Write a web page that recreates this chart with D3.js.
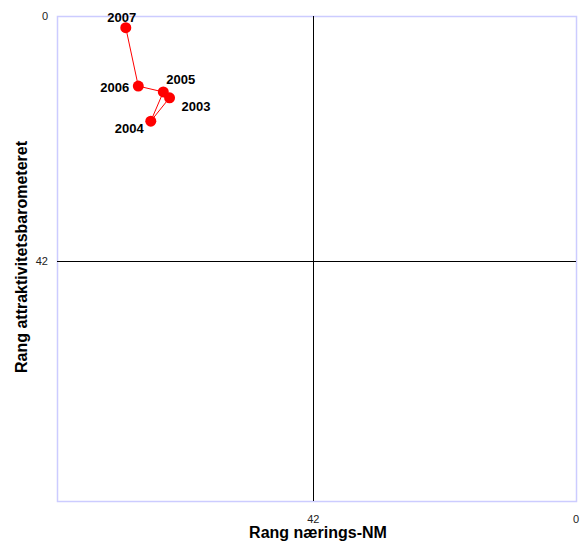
<!DOCTYPE html>
<html>
<head>
<meta charset="utf-8">
<script src="https://cdn.jsdelivr.net/npm/d3@7"></script>
<style>
  html, body { margin: 0; padding: 0; background: #fff; }
  svg { display: block; font-family: "Liberation Sans", Arial, sans-serif; }
</style>
</head>
<body>
<svg id="chart" width="586" height="542"></svg>
<script>
// years and ranks
const years = ['2003', '2004', '2005', '2006', '2007'];
const rankNM = [65, 68, 66, 70, 72];        // x: Rang nærings-NM
const rankAttr = [14, 18, 13, 12, 2];        // y: Rang attraktivitetsbarometeret
const xTicks = [42, 0];
const yTicks = [0, 42];

const svg = d3.select('#chart');
const plotLeft = 57, plotRight = 576, plotTop = 16, plotBottom = 501;
const rankMax = 83;

const x = d3.scaleLinear().domain([rankMax, 0]).range([plotLeft, plotRight]);
const y = d3.scaleLinear().domain([0, rankMax]).range([plotTop, plotBottom]);

// plot frame
svg.append('rect')
  .attr('x', plotLeft + 0.5)
  .attr('y', plotTop + 0.5)
  .attr('width', plotRight - plotLeft)
  .attr('height', plotBottom - plotTop)
  .attr('fill', 'none')
  .attr('stroke', '#ccccff')
  .attr('stroke-width', 1.5);

// crossing axes at rank 42
svg.append('line')
  .attr('x1', Math.round(x(42)) + 0.5).attr('x2', Math.round(x(42)) + 0.5)
  .attr('y1', plotTop).attr('y2', plotBottom)
  .attr('stroke', '#000').attr('stroke-width', 1);
svg.append('line')
  .attr('x1', plotLeft).attr('x2', plotRight)
  .attr('y1', Math.round(y(42)) + 0.5).attr('y2', Math.round(y(42)) + 0.5)
  .attr('stroke', '#000').attr('stroke-width', 1);

// tick labels
svg.selectAll('.xtick')
  .data(xTicks)
  .enter().append('text')
  .attr('x', d => x(d))
  .attr('y', 523)
  .attr('text-anchor', 'middle')
  .attr('font-size', 11)
  .attr('fill', '#222')
  .text(d => d);

svg.selectAll('.ytick')
  .data(yTicks)
  .enter().append('text')
  .attr('x', 48)
  .attr('y', d => y(d) + 4)
  .attr('text-anchor', 'end')
  .attr('font-size', 11)
  .attr('fill', '#222')
  .text(d => d);

// axis titles
svg.append('text')
  .attr('x', 318)
  .attr('y', 538)
  .attr('text-anchor', 'middle')
  .attr('font-size', 16)
  .attr('font-weight', 'bold')
  .text('Rang nærings-NM');

svg.append('text')
  .attr('transform', 'translate(27, 257) rotate(-90)')
  .attr('text-anchor', 'middle')
  .attr('font-size', 16)
  .attr('font-weight', 'bold')
  .text('Rang attraktivitetsbarometeret');

// series
const points = years.map((yr, i) => ({ year: yr, nm: rankNM[i], attr: rankAttr[i] }));

svg.append('path')
  .datum(points)
  .attr('fill', 'none')
  .attr('stroke', '#ff0000')
  .attr('stroke-width', 1)
  .attr('d', d3.line().x(d => x(d.nm)).y(d => y(d.attr)));

svg.selectAll('.pt')
  .data(points)
  .enter().append('circle')
  .attr('cx', d => x(d.nm))
  .attr('cy', d => y(d.attr))
  .attr('r', 5.5)
  .attr('fill', '#ff0000');

// label placement per point (dx, dy, anchor)
const labelPos = {
  '2003': [12, 13, 'start'],
  '2004': [-7, 12, 'end'],
  '2005': [3, -8, 'start'],
  '2006': [-9, 6, 'end'],
  '2007': [-4, -6, 'middle']
};

svg.selectAll('.lbl')
  .data(points)
  .enter().append('text')
  .attr('x', d => x(d.nm) + labelPos[d.year][0])
  .attr('y', d => y(d.attr) + labelPos[d.year][1])
  .attr('text-anchor', d => labelPos[d.year][2])
  .attr('font-size', 13)
  .attr('font-weight', 'bold')
  .text(d => d.year);
</script>
</body>
</html>
